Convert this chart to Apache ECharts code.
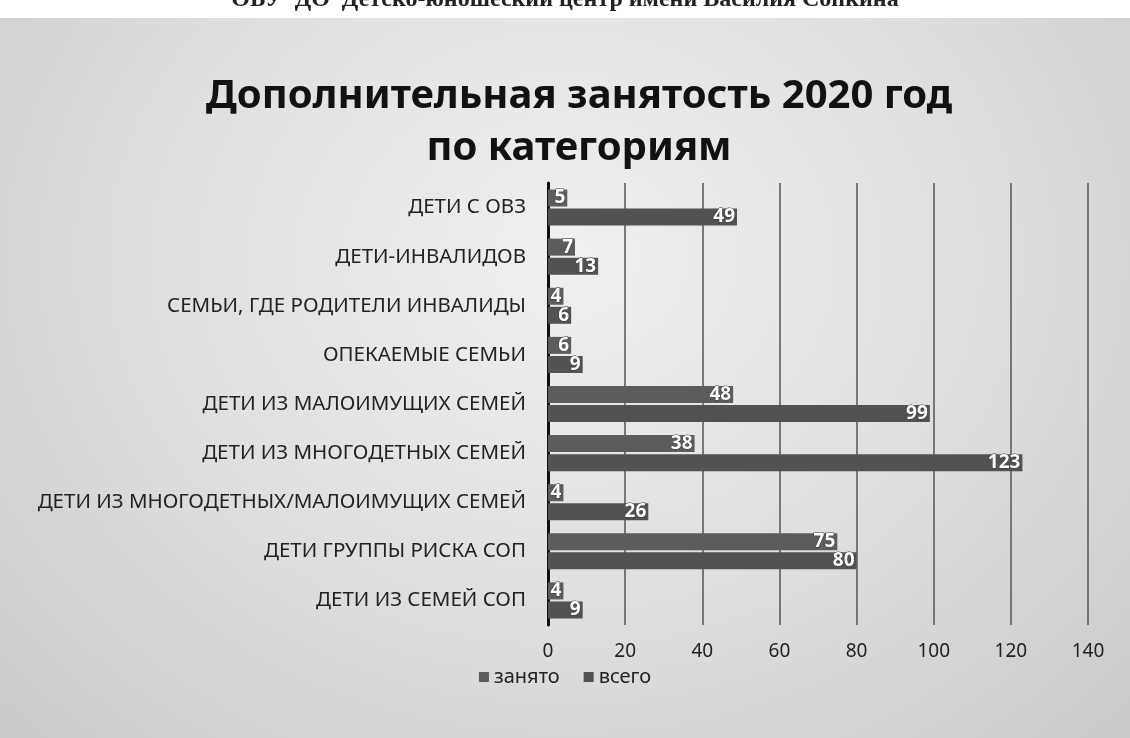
<!DOCTYPE html>
<html>
<head>
<meta charset="utf-8">
<script src="https://cdn.jsdelivr.net/npm/echarts@6/dist/echarts.min.js"></script>
<style>
html,body{margin:0;padding:0;}
#chart{width:1130px;height:738px;background:radial-gradient(ellipse at 50% 35%, #f0f0f0 0%, #dedede 55%, #c9c9c9 100%);}
</style>
</head>
<body>
<div id="chart"></div>
<script>
const categories = [
  'ДЕТИ С ОВЗ',
  'ДЕТИ-ИНВАЛИДОВ',
  'СЕМЬИ, ГДЕ РОДИТЕЛИ ИНВАЛИДЫ',
  'ОПЕКАЕМЫЕ СЕМЬИ',
  'ДЕТИ ИЗ МАЛОИМУЩИХ СЕМЕЙ',
  'ДЕТИ ИЗ МНОГОДЕТНЫХ СЕМЕЙ',
  'ДЕТИ ИЗ МНОГОДЕТНЫХ/МАЛОИМУЩИХ СЕМЕЙ',
  'ДЕТИ ГРУППЫ РИСКА СОП',
  'ДЕТИ ИЗ СЕМЕЙ СОП'
];
const zanyato = [5, 7, 4, 6, 48, 38, 4, 75, 4];
const vsego = [49, 13, 6, 9, 99, 123, 26, 80, 9];
const seriesNames = ['занято', 'всего'];
const xTicks = [0, 20, 40, 60, 80, 100, 120, 140];
const titleLines = ['Дополнительная занятость 2020 год', 'по категориям'];
const headerText = 'ОБУ  ДО  Детско-юношеский центр имени Василия Сопкина';

const chart = echarts.init(document.getElementById('chart'));
const font = 'Noto Sans';
const labelCfg = {
  show: true,
  position: 'insideRight',
  distance: 2,
  color: '#ffffff',
  fontFamily: font,
  fontSize: 19,
  fontWeight: 'bold',
  textBorderColor: '#3a3a3a',
  textBorderWidth: 1
};
chart.setOption({
  backgroundColor: 'transparent',
  animation: false,
  graphic: [
    { type: 'rect', shape: { x: 0, y: 0, width: 1130, height: 18 }, style: { fill: '#ffffff' } },
    { type: 'text', left: 'center', top: -12, style: { text: headerText, font: 'bold 24px "Liberation Serif"', fill: '#222' } }
  ],
  title: {
    text: titleLines.join('\n'),
    left: 574,
    textAlign: 'center',
    top: 66,
    textStyle: { fontFamily: font, fontSize: 40, fontWeight: 'bold', color: '#111', lineHeight: 52 }
  },
  legend: {
    data: seriesNames,
    bottom: 46,
    left: 'center',
    itemWidth: 10,
    itemHeight: 10,
    itemGap: 24,
    icon: 'rect',
    textStyle: { fontFamily: font, fontSize: 20, color: '#222' }
  },
  grid: { left: 548, right: 42, top: 183, bottom: 113 },
  xAxis: {
    type: 'value',
    min: 0,
    max: 140,
    interval: 20,
    axisLine: { show: false },
    axisTick: { show: false },
    axisLabel: {
      fontFamily: font, fontSize: 19, color: '#222', margin: 17,
      formatter: v => xTicks.includes(v) ? String(v) : ''
    },
    splitLine: { show: true, lineStyle: { color: '#555', width: 1.5 } }
  },
  yAxis: {
    type: 'category',
    data: categories,
    inverse: true,
    axisLine: { show: true, lineStyle: { color: '#111', width: 3 } },
    axisTick: { show: false },
    axisLabel: { fontFamily: font, fontSize: 20.5, color: '#222', margin: 22 }
  },
  series: [
    {
      name: seriesNames[0], type: 'bar', data: zanyato,
      barWidth: 17, barGap: '12%',
      itemStyle: { color: '#5c5c5c' },
      label: labelCfg
    },
    {
      name: seriesNames[1], type: 'bar', data: vsego,
      barWidth: 17,
      itemStyle: { color: '#525252' },
      label: labelCfg
    }
  ]
});
</script>
</body>
</html>
